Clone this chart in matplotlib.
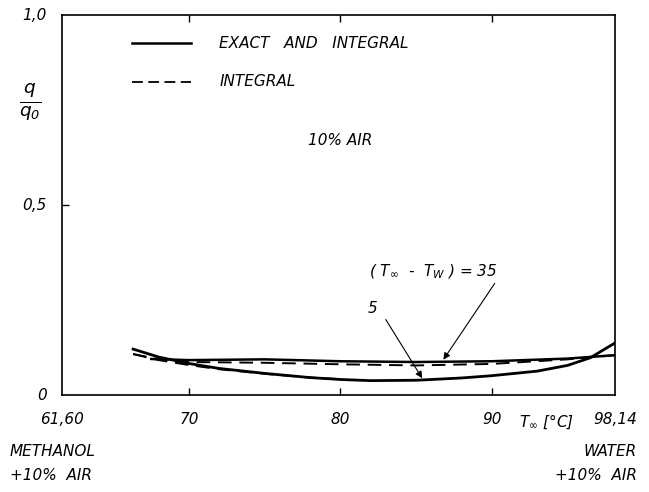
import matplotlib.pyplot as plt

# curve data (T_inf in deg C, q/q0)
t_exact35 = [67.5, 70, 75, 80, 85, 90, 95, 98.14]
q_exact35 = [0.095, 0.092, 0.094, 0.089, 0.087, 0.089, 0.096, 0.105]
t_integ35 = [66.3, 68, 70, 75, 80, 85, 90, 95, 98.14]
q_integ35 = [0.108, 0.094, 0.087, 0.085, 0.081, 0.078, 0.082, 0.094, 0.105]
t_exact5 = [66.3, 68, 70, 72, 75, 78, 80, 82, 85, 88, 90, 93, 95, 96.5, 98.14]
q_exact5 = [0.121, 0.100, 0.083, 0.070, 0.057, 0.046, 0.041, 0.038, 0.039, 0.045, 0.051, 0.063, 0.078, 0.098, 0.137]
t_integ5 = [66.3, 68, 70, 72, 75, 78, 80]
q_integ5 = [0.108, 0.092, 0.079, 0.068, 0.056, 0.046, 0.042]

x_ticks = [61.60, 70, 80, 90, 98.14]
x_labels = ['61,60', '70', '80', '90', '98,14']
y_ticks = [0, 0.5, 1.0]
y_labels = ['0', '0,5', '1,0']

plt.rcParams['font.family'] = ['DejaVu Sans']
plt.rcParams['font.style'] = 'italic'

fig = plt.figure(figsize=(6.49, 4.92), dpi=100)
ax = fig.add_axes([0.0955, 0.197, 0.852, 0.7724])

ax.plot(t_exact35, q_exact35, color='black', lw=1.8)
ax.plot(t_integ35, q_integ35, color='black', lw=1.4, ls=(0, (7, 4)))
ax.plot(t_exact5, q_exact5, color='black', lw=2.0)
ax.plot(t_integ5, q_integ5, color='black', lw=1.4, ls=(0, (7, 4)))

ax.set_xlim(61.60, 98.14)
ax.set_ylim(0, 1.0)
ax.set_xticks([70, 80, 90])
ax.set_xticklabels([])
ax.set_yticks([0.5])
ax.set_yticklabels([])
ax.tick_params(direction='in', length=5, width=1, top=True)
for s in ax.spines.values():
    s.set_linewidth(1.2)

# tick labels placed by hand so they sit like the original
fs = 11
for xv, lab in zip(x_ticks, x_labels):
    ax.text(xv, -0.045, lab, ha='center', va='top', fontsize=fs)
for yv, lab in zip(y_ticks, y_labels):
    ax.text(60.6, yv, lab, ha='right', va='center', fontsize=fs)

ax.text(93.6, -0.045, r'$T_{\infty}$ [°C]', ha='center', va='top', fontsize=fs)
ax.text(59.5, 0.77, r'$\frac{q}{q_0}$', ha='center', va='center', fontsize=19)

# legend drawn as lines + text
ax.plot([66.2, 70.1], [0.926, 0.926], color='black', lw=1.8)
ax.plot([66.2, 70.1], [0.824, 0.824], color='black', lw=1.3, ls=(0, (6, 3)))
ax.text(72.0, 0.926, 'EXACT   AND   INTEGRAL', ha='left', va='center', fontsize=fs)
ax.text(72.0, 0.824, 'INTEGRAL', ha='left', va='center', fontsize=fs)
ax.text(80.0, 0.671, '10% AIR', ha='center', va='center', fontsize=fs)

# annotations
ax.annotate('', xy=(86.7, 0.087), xytext=(90.3, 0.300),
            arrowprops=dict(arrowstyle='-|>', color='black', lw=0.8, mutation_scale=10))
ax.text(90.4, 0.325, r'( $T_{\infty}$  -  $T_W$ ) = 35', ha='right', va='center', fontsize=fs)
ax.annotate('', xy=(85.5, 0.038), xytext=(82.9, 0.205),
            arrowprops=dict(arrowstyle='-|>', color='black', lw=0.8, mutation_scale=10))
ax.text(82.1, 0.228, '5', ha='center', va='center', fontsize=fs)

# fluid names under the axis
fig.text(10 / 649, 1 - 452 / 492, 'METHANOL', ha='left', va='center', fontsize=fs)
fig.text(10 / 649, 1 - 476 / 492, '+10%  AIR', ha='left', va='center', fontsize=fs)
fig.text(637 / 649, 1 - 452 / 492, 'WATER', ha='right', va='center', fontsize=fs)
fig.text(637 / 649, 1 - 476 / 492, '+10%  AIR', ha='right', va='center', fontsize=fs)

fig.savefig('out.png', dpi=100)
